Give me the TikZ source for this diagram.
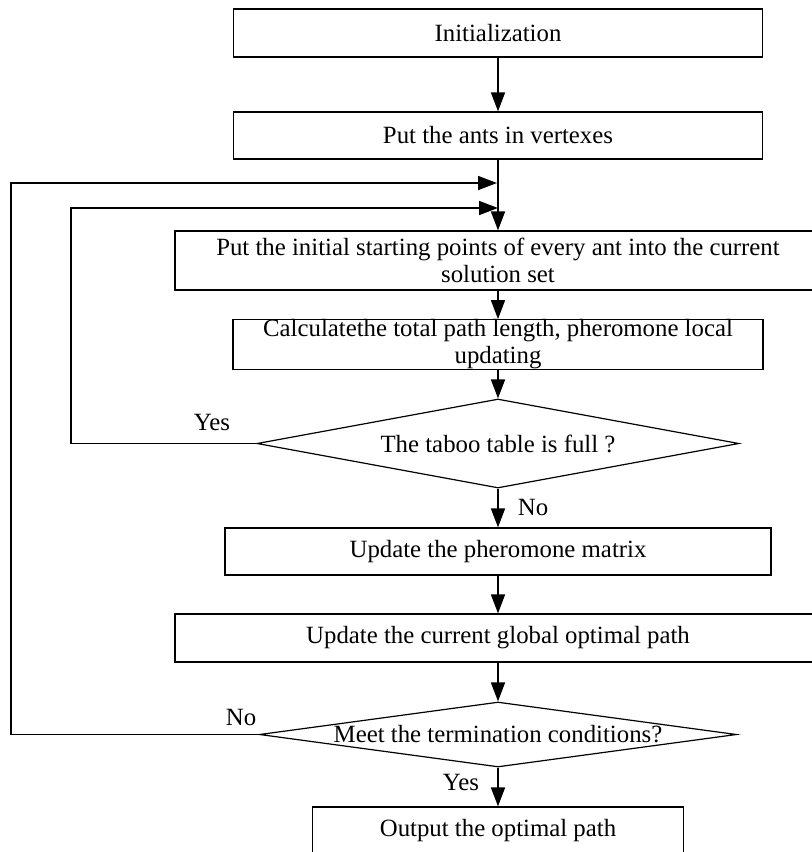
\documentclass[tikz,border=0pt]{standalone}
\usepackage{fontspec}
\setmainfont{Liberation Serif}
\usetikzlibrary{shapes.geometric,arrows.meta}

\begin{document}
\begin{tikzpicture}[x=0.5pt,y=-0.5pt,
every node/.style={font=\fontsize{12.4}{13.5}\selectfont},
stepbox/.style={draw,line width=0.6pt,inner sep=0pt,align=center},
test/.style={draw,shape=diamond,line width=0.6pt,inner sep=0pt,align=center},
flow/.style={line width=0.8pt,-{Triangle[length=9.5pt,width=7pt]}}]
\useasboundingbox (0,0) rectangle (812,852);
\clip (0,0) rectangle (812,852);
% First the boxes and the two tests, all on one vertical axis:
\node [stepbox,minimum width=264.5pt,minimum height=24pt] (init) at (498,33) {Initialization};
\node [stepbox,minimum width=264.5pt,minimum height=23.5pt] (ants) at (498,135.5) {Put the ants in vertexes};
\node [stepbox,minimum width=323pt,minimum height=29.5pt] (start) at (498,260.5)
{Put the initial starting points of every ant into the current\\solution set};
\node [stepbox,minimum width=265pt,minimum height=23.5pt] (calc) at (498,344.5)
{Calculatethe total path length, pheromone local\\updating};
\node [test,aspect=5.4,minimum width=241pt,minimum height=44.5pt] (taboo) at (498,443.5)
{The taboo table is full ?};
\node [stepbox,minimum width=273pt,minimum height=23.5pt] (pher) at (498,551.5) {Update the pheromone matrix};
\node [stepbox,minimum width=323pt,minimum height=24pt] (global) at (498,638)
{Update the current global optimal path};
\node [test,aspect=7.3,minimum width=238.5pt,minimum height=32.5pt] (term) at (498,734.5)
{Meet the termination conditions?};
\node [stepbox,minimum width=185.5pt,minimum height=24pt] (out) at (498,831) {Output the optimal path};
% the two lanes on the left and where they come back in
\coordinate (outer lane) at (11,0);
\coordinate (inner lane) at (71,0);
\coordinate (back outer) at (497,183);
\coordinate (back inner) at (498,208);
\foreach \from/\to in {init/ants,ants/start,start/calc,calc/taboo,taboo/pher,pher/global,global/term,term/out}
\draw [flow] (\from) -- (\to);
\draw [flow] (taboo.west) -- (taboo.west -| inner lane) |- (back inner);
\draw [flow] (term.west) -- (term.west -| outer lane) |- (back outer);
% answers of the tests
\node (yes taboo) at (212,422) {Yes};
\node (no taboo) at (533,507) {No};
\node (no term) at (241,717) {No};
\node (yes term) at (461,782) {Yes};
\end{tikzpicture}
\end{document}
